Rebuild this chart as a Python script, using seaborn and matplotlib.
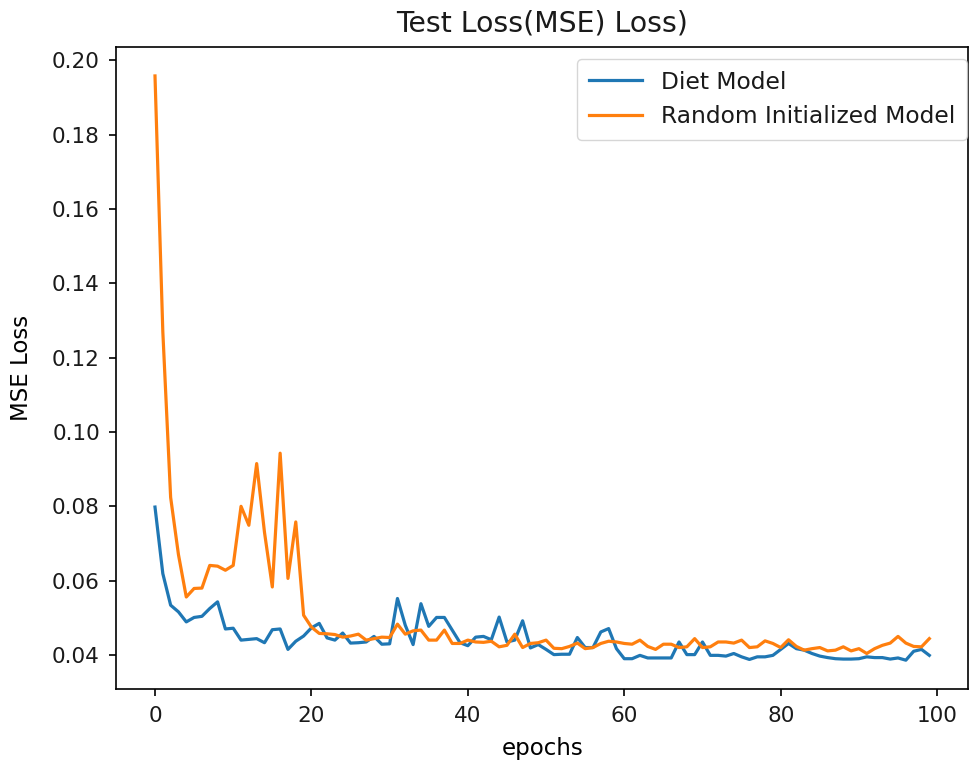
import numpy as np
import pandas as pd
import matplotlib
matplotlib.use("Agg")
import matplotlib.pyplot as plt
import seaborn as sns

# test loss per epoch
epochs = list(range(100))

diet_loss = [
    0.0798, 0.0619, 0.0534, 0.0516, 0.0489, 0.0501, 0.0504, 0.0525, 0.0543, 0.0470,
    0.0472, 0.0440, 0.0442, 0.0444, 0.0433, 0.0468, 0.0470, 0.0415, 0.0437, 0.0451,
    0.0473, 0.0485, 0.0446, 0.0440, 0.0459, 0.0432, 0.0433, 0.0435, 0.0450, 0.0429,
    0.0430, 0.0552, 0.0480, 0.0428, 0.0538, 0.0477, 0.0501, 0.0501, 0.0467, 0.0433,
    0.0425, 0.0448, 0.0450, 0.0441, 0.0502, 0.0435, 0.0440, 0.0492, 0.0419, 0.0428,
    0.0415, 0.0401, 0.0402, 0.0402, 0.0447, 0.0420, 0.0420, 0.0462, 0.0471, 0.0417,
    0.0390, 0.0390, 0.0399, 0.0392, 0.0392, 0.0392, 0.0392, 0.0435, 0.0401, 0.0401,
    0.0435, 0.0399, 0.0399, 0.0397, 0.0404, 0.0395, 0.0388, 0.0395, 0.0395, 0.0399,
    0.0415, 0.0431, 0.0417, 0.0413, 0.0404, 0.0397, 0.0393, 0.0390, 0.0389, 0.0389,
    0.0390, 0.0395, 0.0393, 0.0393, 0.0389, 0.0392, 0.0386, 0.0410, 0.0415, 0.0399,
]

random_loss = [
    0.1958, 0.1270, 0.0824, 0.0670, 0.0556, 0.0579, 0.0580, 0.0641, 0.0639, 0.0628,
    0.0641, 0.0800, 0.0749, 0.0915, 0.0730, 0.0583, 0.0943, 0.0606, 0.0758, 0.0507,
    0.0475, 0.0458, 0.0457, 0.0455, 0.0448, 0.0451, 0.0456, 0.0440, 0.0444, 0.0448,
    0.0447, 0.0483, 0.0456, 0.0465, 0.0467, 0.0440, 0.0440, 0.0467, 0.0431, 0.0431,
    0.0440, 0.0435, 0.0434, 0.0437, 0.0422, 0.0426, 0.0456, 0.0420, 0.0431, 0.0433,
    0.0440, 0.0418, 0.0417, 0.0423, 0.0432, 0.0417, 0.0420, 0.0431, 0.0437, 0.0435,
    0.0431, 0.0429, 0.0440, 0.0423, 0.0415, 0.0429, 0.0429, 0.0420, 0.0422, 0.0444,
    0.0420, 0.0422, 0.0435, 0.0435, 0.0432, 0.0440, 0.0420, 0.0422, 0.0438, 0.0431,
    0.0420, 0.0441, 0.0423, 0.0413, 0.0417, 0.0420, 0.0411, 0.0413, 0.0422, 0.0411,
    0.0417, 0.0404, 0.0417, 0.0426, 0.0432, 0.0450, 0.0432, 0.0423, 0.0422, 0.0444,
]

model_names = ["Diet Model", "Random Initialized Model"]
line_colors = ["#1f77b4", "#ff7f0e"]

df = pd.DataFrame({
    "epochs": epochs * 2,
    "loss": diet_loss + random_loss,
    "model": [model_names[0]] * len(epochs) + [model_names[1]] * len(epochs),
})

plt.rcParams["font.family"] = ["DejaVu Sans"]
plt.rcParams["text.color"] = "#1a1a1a"
plt.rcParams["xtick.labelcolor"] = "#1a1a1a"
plt.rcParams["ytick.labelcolor"] = "#1a1a1a"

fig, ax = plt.subplots(figsize=(9.69, 7.66), dpi=100)
fig.subplots_adjust(left=0.120, right=0.999, top=0.939, bottom=0.100)

sns.lineplot(data=df, x="epochs", y="loss", hue="model", palette=line_colors,
             linewidth=2.3, ax=ax)

ax.set_title("Test Loss(MSE) Loss)", fontsize=20.4, pad=11)
ax.set_xlabel("epochs", fontsize=16.5, labelpad=8)
ax.set_ylabel("MSE Loss", fontsize=16.5, labelpad=14)
ax.tick_params(labelsize=15.5, length=5.3, width=1.2, pad=6.5)
for sp in ax.spines.values():
    sp.set_linewidth(1.2)

ax.set_xticks([0, 20, 40, 60, 80, 100])
ax.set_yticks([0.04, 0.06, 0.08, 0.10, 0.12, 0.14, 0.16, 0.18, 0.20])

ax.legend(loc="upper right", bbox_to_anchor=(967 / 969, 1 - 59 / 766),
          bbox_transform=fig.transFigure, borderaxespad=0,
          fontsize=16.8, handlelength=2.3, handletextpad=0.8, borderpad=0.5)

fig.savefig("out.png", dpi=100)
